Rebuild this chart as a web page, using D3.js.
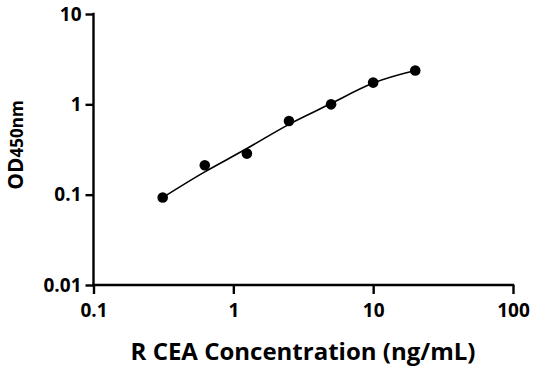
<!DOCTYPE html>
<html><head><meta charset="utf-8">
<script src="https://cdn.jsdelivr.net/npm/d3@7"></script>
<style>body{margin:0;background:#fff}svg{display:block}</style>
</head><body>
<svg id="c" width="536" height="371"></svg>
<script>
const concentrations = [0.3125, 0.625, 1.25, 2.5, 5, 10, 20];
const odValues = [0.093, 0.212, 0.285, 0.654, 1.0, 1.74, 2.37];
const fitValues = [0.093, 0.179, 0.324, 0.60, 1.02, 1.72, 2.37];
const xTicks = [0.1, 1, 10, 100];
const yTicks = [0.01, 0.1, 1, 10];
const xTickLabels = ["0.1", "1", "10", "100"];
const yTickLabels = ["0.01", "0.1", "1", "10"];

const svg = d3.select("#c");
const font = "'Open Sans', 'DejaVu Sans', sans-serif";
const x = d3.scaleLog().domain([0.1, 100]).range([93.5, 513]);
const y = d3.scaleLog().domain([0.01, 10]).range([285, 14]);

const xa = svg.append("g").attr("transform", "translate(0,285)")
  .call(d3.axisBottom(x).tickValues(xTicks).tickFormat((d,i)=>xTickLabels[i]).tickSizeOuter(0).tickSize(9).tickPadding(10));
const ya = svg.append("g").attr("transform", "translate(93.5,0)")
  .call(d3.axisLeft(y).tickValues(yTicks).tickFormat((d,i)=>yTickLabels[i]).tickSizeOuter(0).tickSize(8).tickPadding(4));
[xa, ya].forEach(a => {
  a.select(".domain").attr("stroke", "#000").attr("stroke-width", 2.4);
  a.selectAll(".tick line").attr("stroke", "#000").attr("stroke-width", 2.4);
  a.selectAll(".tick text").attr("fill", "#000").style("font-family", font).style("font-weight", "bold").style("font-size", "19px");
});
xa.selectAll(".domain").attr("d", `M${x(0.1)-1.2},0H${x(100)+1.2}`);
ya.selectAll(".domain").attr("d", `M0,${y(0.01)+1.2}V${y(10)-1.2}`);

const line = d3.line().x((d,i)=>x(concentrations[i])).y(d=>y(d)).curve(d3.curveNatural);
svg.append("path").datum(fitValues).attr("d", line).attr("fill", "none").attr("stroke", "#000").attr("stroke-width", 1.6);

svg.selectAll("circle.pt").data(odValues).enter().append("circle")
  .attr("cx", (d,i)=>x(concentrations[i])).attr("cy", d=>y(d)).attr("r", 5.3).attr("fill", "#000");

svg.append("text").attr("x", 303).attr("y", 360).attr("text-anchor", "middle")
  .style("font-family", font).style("font-weight", "bold").style("font-size", "24px").text("R CEA Concentration (ng/mL)");

const yt = svg.append("text").attr("transform", "translate(23,145) rotate(-90)").attr("text-anchor", "middle")
  .style("font-family", font).style("font-weight", "bold");
yt.append("tspan").style("font-size", "21px").text("OD");
yt.append("tspan").style("font-size", "17px").text("450nm");
</script>
</body></html>
